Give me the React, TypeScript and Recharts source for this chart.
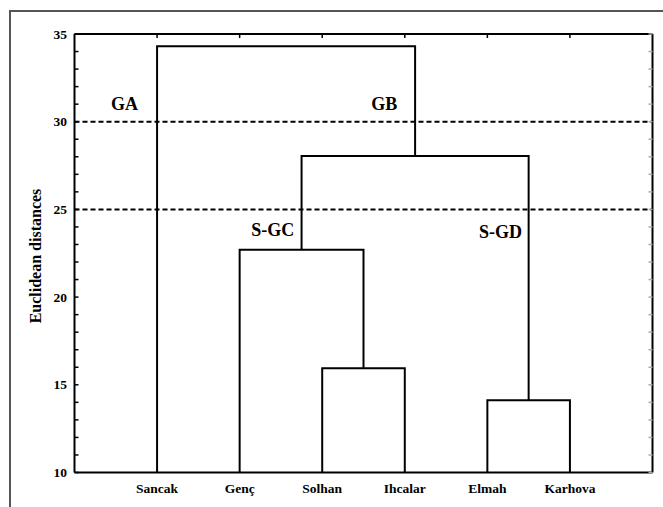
import React from 'react';
import { ComposedChart, Line, XAxis, YAxis, ReferenceLine, ReferenceDot } from 'recharts';

// Leaves (sites) in dendrogram order
const leaves = ['Sancak', 'Genç', 'Solhan', 'Ihcalar', 'Elmah', 'Karhova'];
// Merge steps: children indexes (0..5 leaves, 6.. earlier merges) and linkage distance
const mergeA = [2, 4, 1, 8, 0];
const mergeB = [3, 5, 6, 7, 9];
const mergeHeights = [15.95, 14.12, 22.7, 28.05, 34.3];
// Cut-off levels drawn as dashed lines
const cutLevels = [30, 25];
// Group annotations
const groupNames = ['GA', 'GB', 'S-GC', 'S-GD'];
const groupX = [0.605, 3.75, 2.4, 5.16];
const groupY = [31.05, 31.05, 23.87, 23.73];
const yTicks = [10, 11, 12, 13, 14, 15, 16, 17, 18, 19, 20, 21, 22, 23, 24, 25, 26, 27, 28, 29, 30, 31, 32, 33, 34, 35];
const yLabels = [10, 15, 20, 25, 30, 35];
const yLabel = 'Euclidean distances';
const baseLevel = 10;
const xMin = 0;
const xMax = 7;
const yMin = 10;
const yMax = 35;

const FONT = "'Liberation Serif', 'Times New Roman', Times, serif";
const textStyle: React.CSSProperties = { fontFamily: FONT, fontWeight: 700 };

const PLOT_LEFT = 74.5;
const PLOT_RIGHT = 652.5;
const PLOT_TOP = 34;

// Build node positions (x) and heights from the merge table
const nodeX: number[] = leaves.map((_, i) => i + 1);
const nodeH: number[] = leaves.map(() => baseLevel);
const segments: { x: number; y: number }[][] = [];
mergeA.forEach((a, k) => {
  const b = mergeB[k];
  const h = mergeHeights[k];
  segments.push([
    { x: nodeX[a], y: nodeH[a] },
    { x: nodeX[a], y: h },
    { x: nodeX[b], y: h },
    { x: nodeX[b], y: nodeH[b] },
  ]);
  nodeX.push((nodeX[a] + nodeX[b]) / 2);
  nodeH.push(h);
});

const XTick = (props: any) => {
  const { x, y, payload } = props;
  const name = leaves[payload.value - 1];
  return (
    <g>
      <line x1={x} x2={x} y1={PLOT_TOP} y2={PLOT_TOP + 4} stroke="#000" strokeWidth={1.5} />
      <text x={x} y={y + 20.5} textAnchor="middle" fontSize={13.5} fill="#000" style={textStyle}>
        {name}
      </text>
    </g>
  );
};

const YTick = (props: any) => {
  const { y, payload } = props;
  const showLabel = yLabels.includes(payload.value);
  return (
    <g>
      <line x1={PLOT_LEFT} x2={PLOT_LEFT + 4} y1={y} y2={y} stroke="#000" strokeWidth={1.5} />
      <line x1={PLOT_RIGHT - 4} x2={PLOT_RIGHT} y1={y} y2={y} stroke="#aaa" strokeWidth={1.5} />
      {showLabel && (
        <text x={67} y={y + 4.5} textAnchor="end" fontSize={13.5} fill="#000" style={textStyle}>
          {payload.value}
        </text>
      )}
    </g>
  );
};

const YAxisTitle = () => (
  <text
    x={0}
    y={0}
    transform="translate(41, 256) rotate(-90)"
    textAnchor="middle"
    fontSize={16}
    fill="#000"
    style={textStyle}
  >
    {yLabel}
  </text>
);

export default function App() {
  return (
    <div style={{ position: 'fixed', left: 0, top: 0, width: 663, height: 507, background: '#fff', overflow: 'hidden' }}>
      <div
        style={{
          position: 'absolute',
          left: 9,
          top: 10,
          width: 660,
          height: 500,
          borderLeft: '2px solid #555',
          borderTop: '2px solid #555',
        }}
      />
      <div style={{ position: 'absolute', left: 0, top: 0 }}>
        <ComposedChart width={663} height={507} margin={{ top: 34, right: 10.5, bottom: 4.5, left: 14.5 }}>
          <XAxis
            dataKey="x"
            type="number"
            domain={[xMin, xMax]}
            ticks={[1, 2, 3, 4, 5, 6]}
            interval={0}
            tick={<XTick />}
            tickLine={false}
            tickSize={0}
            tickMargin={0}
            height={30}
            axisLine={{ stroke: '#000', strokeWidth: 2 }}
            allowDataOverflow
          />
          <YAxis
            type="number"
            domain={[yMin, yMax]}
            ticks={yTicks}
            interval={0}
            tick={<YTick />}
            tickLine={false}
            tickSize={0}
            tickMargin={0}
            width={60}
            axisLine={{ stroke: '#000', strokeWidth: 2 }}
            allowDataOverflow
            label={{ content: <YAxisTitle /> }}
          />
          <ReferenceLine y={yMax} stroke="#000" strokeWidth={2} />
          <ReferenceLine x={xMax} stroke="#000" strokeWidth={2} />
          {cutLevels.map((lv) => (
            <ReferenceLine key={lv} y={lv} stroke="#000" strokeWidth={2} strokeDasharray="5 3" />
          ))}
          {segments.map((seg, i) => (
            <Line
              key={i}
              data={seg}
              dataKey="y"
              type="linear"
              stroke="#000"
              strokeWidth={2}
              dot={false}
              activeDot={false}
              isAnimationActive={false}
              strokeLinejoin="miter"
            />
          ))}
          {groupNames.map((g, i) => (
            <ReferenceDot
              key={g}
              x={groupX[i]}
              y={groupY[i]}
              r={0}
              shape={(p: any) => (
                <text
                  x={p.cx}
                  y={p.cy}
                  dy="0.35em"
                  textAnchor="middle"
                  fontSize={18}
                  fill="#000"
                  style={textStyle}
                >
                  {g}
                </text>
              )}
            />
          ))}
        </ComposedChart>
      </div>
    </div>
  );
}
